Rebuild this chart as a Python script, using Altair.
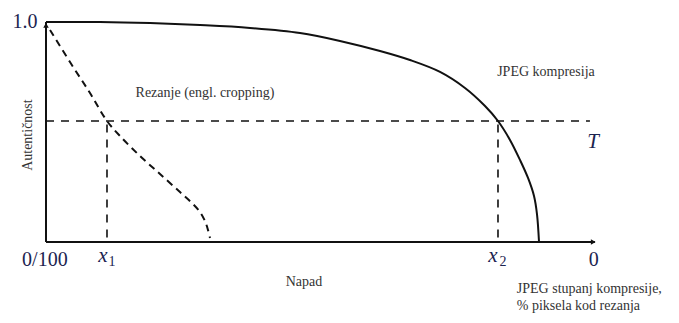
import altair as alt
import pandas as pd

# JPEG compression curve (solid)
jpeg_x = [0, 9.82, 18.91, 28.0, 37.09, 46.18, 53.45, 60.73, 66.18, 71.64, 76.18, 79.82,
          82.18, 84.36, 86.18, 87.64, 88.73, 89.27, 89.64]
jpeg_y = [1.0, 1.0, 0.995, 0.986, 0.973, 0.950, 0.914, 0.868, 0.827, 0.773, 0.700, 0.618,
          0.55, 0.464, 0.373, 0.291, 0.209, 0.127, 0.0]

# Cropping curve (dashed)
crop_x = [0.73, 4.36, 8.0, 11.09, 13.45, 17.09, 20.73, 24.36, 26.55, 28.0, 28.91, 29.45, 29.82]
crop_y = [0.964, 0.818, 0.677, 0.55, 0.482, 0.391, 0.309, 0.227, 0.177, 0.136, 0.095, 0.055, 0.018]

threshold = 0.55
x1_val = 11.09
x2_val = 82.18
x_end = 99.8

W, H = 663, 307
XD = [-38 / 5.5, 100 + 75 / 5.5]
YD = [-(307 - 234) / 220, 1 + 14 / 220]

xs = alt.Scale(domain=XD, nice=False, zero=False)
ys = alt.Scale(domain=YD, nice=False, zero=False)


def X(f="x"):
    return alt.X(f"{f}:Q", scale=xs, axis=None)


def Y(f="y"):
    return alt.Y(f"{f}:Q", scale=ys, axis=None)


jpeg = alt.Chart(pd.DataFrame({"x": jpeg_x, "y": jpeg_y, "o": range(len(jpeg_x))})).mark_line(
    color="#111", strokeWidth=2, interpolate="catmull-rom"
).encode(x=X(), y=Y(), order="o:Q")

crop = alt.Chart(pd.DataFrame({"x": crop_x, "y": crop_y, "o": range(len(crop_x))})).mark_line(
    color="#111", strokeWidth=2, strokeDash=[7, 5], interpolate="catmull-rom"
).encode(x=X(), y=Y(), order="o:Q")

# axes
axes_df = pd.DataFrame({
    "x": [0, 0], "y": [0, 0], "x2": [0, x_end], "y2": [1.0, 0]
})
axes = alt.Chart(axes_df).mark_rule(color="#111", strokeWidth=2).encode(
    x=X(), y=Y(), x2="x2:Q", y2="y2:Q"
)

arrows_df = pd.DataFrame({"x": [0, x_end - 0.3], "y": [0.985, 0], "shape": ["triangle-up", "triangle-right"]})
arrows = alt.Chart(arrows_df).mark_point(filled=True, color="#111", size=30, opacity=1).encode(
    x=X(), y=Y(), shape=alt.Shape("shape:N", scale=None)
)

# dashed guides
guides_df = pd.DataFrame({
    "x": [0, x1_val, x2_val],
    "y": [threshold, 0.02, 0.02],
    "x2": [98.9, x1_val, x2_val],
    "y2": [threshold, threshold, threshold],
})
guides = alt.Chart(guides_df).mark_rule(color="#111", strokeWidth=1.6, strokeDash=[8, 7]).encode(
    x=X(), y=Y(), x2="x2:Q", y2="y2:Q"
)

SERIF = "Liberation Serif"
NAVY = "#1c2450"
GREY = "#333333"

math_df = pd.DataFrame({
    "x": [-3.8, -0.2, 99.6],
    "y": [1.0, -0.082, -0.082],
    "t": ["1.0", "0/100", "0"],
})
math_labels = alt.Chart(math_df).mark_text(font=SERIF, fontSize=20, color=NAVY).encode(
    x=X(), y=Y(), text="t:N"
)

ital_df = pd.DataFrame({
    "x": [(103 - 46) / 5.5, (493 - 46) / 5.5, (593 - 46) / 5.5],
    "y": [-0.065, -0.065, 0.455],
    "t": ["x", "x", "T"],
})
ital = alt.Chart(ital_df).mark_text(font=SERIF, fontSize=21, fontStyle="italic", color=NAVY).encode(
    x=X(), y=Y(), text="t:N"
)

sub_df = pd.DataFrame({
    "x": [(112 - 46) / 5.5, (503 - 46) / 5.5],
    "y": [-0.092, -0.092],
    "t": ["1", "2"],
})
subs = alt.Chart(sub_df).mark_text(font=SERIF, fontSize=14, color=NAVY).encode(
    x=X(), y=Y(), text="t:N"
)

text_df = pd.DataFrame({
    "x": [28.9, 90.9, 46.9],
    "y": [0.677, 0.773, -0.182],
    "t": ["Rezanje (engl. cropping)", "JPEG kompresija", "Napad"],
})
texts = alt.Chart(text_df).mark_text(font=SERIF, fontSize=14, color=GREY).encode(
    x=X(), y=Y(), text="t:N"
)

left_df = pd.DataFrame({
    "x": [85.6, 85.6],
    "y": [-(289 - 242) / 220, -(306 - 242) / 220],
    "t": ["JPEG stupanj kompresije,", "% piksela kod rezanja"],
})
left_texts = alt.Chart(left_df).mark_text(font=SERIF, fontSize=14, color=GREY, align="left").encode(
    x=X(), y=Y(), text="t:N"
)

ylab = alt.Chart(pd.DataFrame({"x": [-3.3], "y": [0.486], "t": ["Autentičnost"]})).mark_text(
    font=SERIF, fontSize=14, color=GREY, angle=270
).encode(x=X(), y=Y(), text="t:N")

chart = alt.layer(
    guides, crop, jpeg, axes, arrows, math_labels, ital, subs, texts, left_texts, ylab
).properties(
    width=W, height=H, padding=0, autosize=alt.AutoSizeParams(type="none")
).configure_view(stroke=None)

chart.save("out.html", embed_options={"renderer": "svg", "actions": False})
